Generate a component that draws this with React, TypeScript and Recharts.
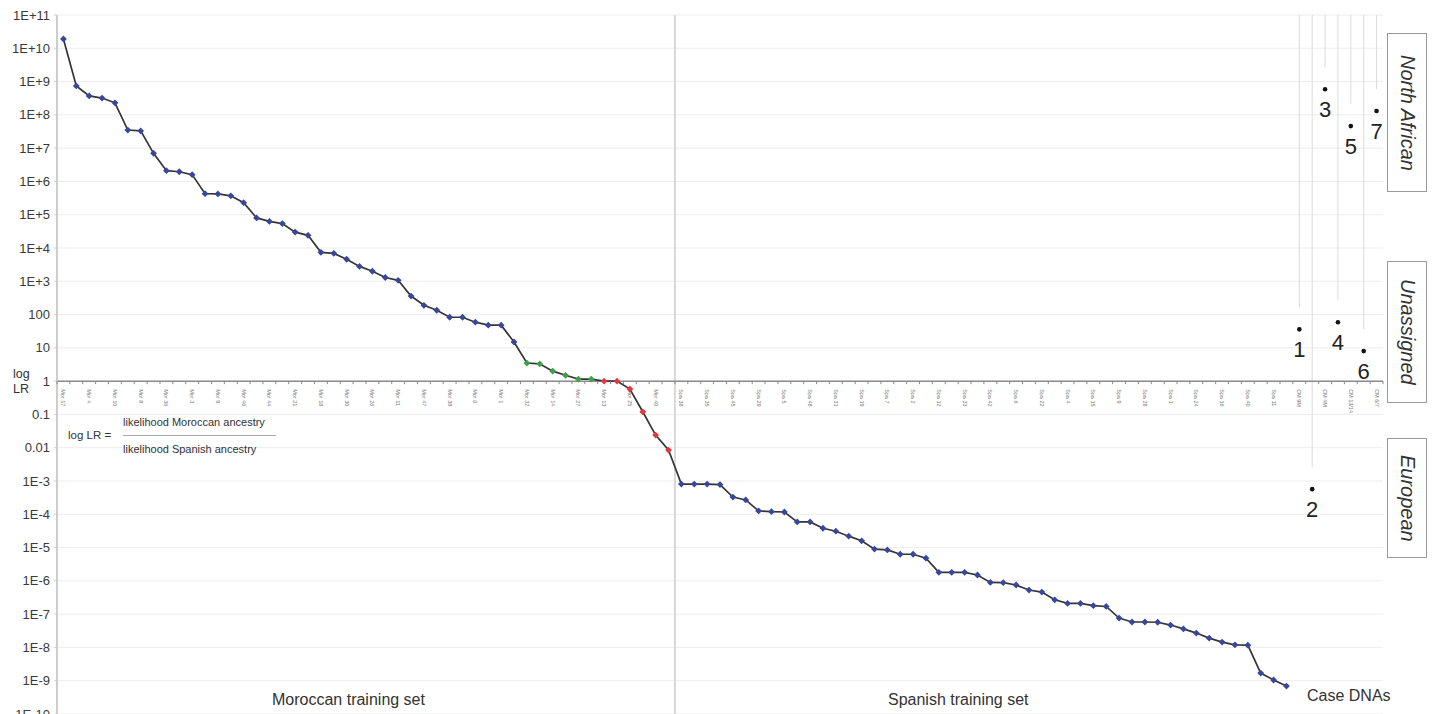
import {
  ComposedChart,
  Line,
  Scatter,
  XAxis,
  YAxis,
  CartesianGrid,
  ReferenceLine,
} from "recharts";

// log likelihood ratios, sorted, one per training sample
const moroccanLR = [
  1.9e10, 7.4e8, 3.7e8, 3.2e8, 2.3e8, 3.5e7, 3.3e7, 7e6, 2.1e6, 1.95e6, 1.6e6, 4.3e5,
  4.2e5, 3.7e5, 2.3e5, 8e4, 6.3e4, 5.4e4, 3e4, 2.4e4, 7.4e3, 6.9e3, 4.6e3, 2.8e3,
  2e3, 1.3e3, 1.07e3, 360, 190, 135, 83, 83, 59, 48, 48, 15, 3.5, 3.3,
  2.0, 1.5, 1.15, 1.15, 1.0, 1.0, 0.58, 0.12, 0.024, 0.0085,
];
// c = correctly assigned, u = unassigned, w = wrong side
const moroccanCall = [
  "c", "c", "c", "c", "c", "c", "c", "c", "c", "c", "c", "c",
  "c", "c", "c", "c", "c", "c", "c", "c", "c", "c", "c", "c",
  "c", "c", "c", "c", "c", "c", "c", "c", "c", "c", "c", "c",
  "u", "u", "u", "u", "u", "u", "w", "w", "w", "w", "w", "w",
];
const spanishLR = [
  8.1e-4, 8.1e-4, 8.1e-4, 7.8e-4, 3.3e-4, 2.7e-4, 1.26e-4, 1.2e-4, 1.17e-4, 5.9e-5, 5.9e-5, 3.8e-5,
  3.1e-5, 2.2e-5, 1.6e-5, 9e-6, 8.5e-6, 6.3e-6, 6.3e-6, 4.8e-6, 1.8e-6, 1.8e-6, 1.8e-6, 1.5e-6,
  9e-7, 8.8e-7, 7.5e-7, 5.3e-7, 4.6e-7, 2.7e-7, 2.1e-7, 2.1e-7, 1.8e-7, 1.7e-7, 7.6e-8, 5.8e-8,
  5.8e-8, 5.7e-8, 4.7e-8, 3.6e-8, 2.7e-8, 1.9e-8, 1.45e-8, 1.2e-8, 1.17e-8, 1.7e-9, 1.05e-9, 6.9e-10,
];
const caseIds = ["1", "2", "3", "4", "5", "6", "7"];
const caseLR = [36, 5.7e-4, 5.9e8, 59, 4.6e7, 8, 1.3e8];

// sample names, written under every second category
const axisLabels = [
  "Mor 17", "Mor 4", "Mor 10", "Mor 8", "Mor 36", "Mor 3", "Mor 9", "Mor 46",
  "Mor 44", "Mor 21", "Mor 18", "Mor 30", "Mor 26", "Mor 11", "Mor 47", "Mor 38",
  "Mor 6", "Mor 1", "Mor 32", "Mor 14", "Mor 27", "Mor 13", "Mor 25", "Mor 40",
  "Spa 38", "Spa 35", "Spa 45", "Spa 29", "Spa 5", "Spa 48", "Spa 31", "Spa 19",
  "Spa 7", "Spa 2", "Spa 12", "Spa 33", "Spa 42", "Spa 6", "Spa 22", "Spa 4",
  "Spa 15", "Spa 9", "Spa 28", "Spa 1", "Spa 24", "Spa 16", "Spa 40", "Spa 11",
  "CM 9M", "CM 4M", "CM 13/14", "CM 6/7",
];

const yTicks = [
  1e-10, 1e-9, 1e-8, 1e-7, 1e-6, 1e-5, 1e-4, 1e-3, 1e-2, 1e-1, 1,
  1e1, 1e2, 1e3, 1e4, 1e5, 1e6, 1e7, 1e8, 1e9, 1e10, 1e11,
];
const yTickLabels = [
  "1E-10", "1E-9", "1E-8", "1E-7", "1E-6", "1E-5", "1E-4", "1E-3", "0.01", "0.1", "1",
  "10", "100", "1E+3", "1E+4", "1E+5", "1E+6", "1E+7", "1E+8", "1E+9", "1E+10", "1E+11",
];

const CALL_COLOR: Record<string, string> = { c: "#37479b", u: "#3f9f45", w: "#e3393b" };
const FONT = "'Liberation Sans', Arial, sans-serif";

const trainRows = [
  ...moroccanLR.map((lr, k) => ({ i: k, lr, call: moroccanCall[k] })),
  ...spanishLR.map((lr, k) => ({ i: moroccanLR.length + k, lr, call: "c" })),
];
const caseRows = caseLR.map((lr, k) => ({ i: trainRows.length + k, lr, id: caseIds[k] }));
const nCat = trainRows.length + caseRows.length;
const labelRows = axisLabels.map((name, k) => ({ i: 2 * k, lr: 1, name }));
const tickRows = Array.from({ length: nCat + 1 }, (_, k) => ({ i: k - 0.5, lr: 1 }));
const splitAt = moroccanLR.length - 0.5;
const LEAD_GAP = 4.5; // leader lines stop a little above each case point

const fmtY = (v: number) => yTickLabels[Math.round(Math.log10(v)) + 10] ?? "";

function Diamond(props: any) {
  const { cx, cy, payload, index } = props;
  if (cx == null || cy == null) return <g key={index} />;
  const r = 3.4;
  return (
    <path
      key={index}
      d={`M${cx},${cy - r}L${cx + r},${cy}L${cx},${cy + r}L${cx - r},${cy}Z`}
      fill={CALL_COLOR[payload.call]}
    />
  );
}

function CaseMark(props: any) {
  const { cx, cy, payload } = props;
  return (
    <g>
      <circle cx={cx} cy={cy} r={2.3} fill="#111" />
      <text x={cx} y={cy + 28} textAnchor="middle" fontSize={22} fill="#222" fontFamily={FONT}>
        {payload.id}
      </text>
    </g>
  );
}

function AxisTick(props: any) {
  const { cx, cy } = props;
  return <line x1={cx} x2={cx} y1={cy} y2={cy + 3} stroke="#888" strokeWidth={1} />;
}

function AxisLabel(props: any) {
  const { cx, cy, payload } = props;
  const y = cy + 8;
  return (
    <text
      x={cx}
      y={y}
      transform={`rotate(90 ${cx} ${y})`}
      fontSize={5.5}
      fill="#777"
      fontFamily={FONT}
      dominantBaseline="central"
    >
      {payload.name}
    </text>
  );
}

function GroupBox({ top, height, label }: { top: number; height: number; label: string }) {
  return (
    <div
      style={{
        position: "absolute",
        left: 1387,
        top,
        width: 38,
        height,
        border: "1.5px solid #9a9a9a",
        display: "flex",
        alignItems: "center",
        justifyContent: "center",
      }}
    >
      <span
        style={{
          writingMode: "vertical-rl",
          fontStyle: "italic",
          fontSize: 20,
          color: "#333",
          fontFamily: FONT,
        }}
      >
        {label}
      </span>
    </div>
  );
}

const txt = (left: number, top: number, size: number, s: string) => (
  <div
    style={{
      position: "absolute",
      left,
      top: top - size * 0.6,
      fontSize: size,
      lineHeight: `${size * 1.2}px`,
      color: "#333",
      fontFamily: FONT,
      whiteSpace: "nowrap",
    }}
  >
    {s}
  </div>
);

export default function App() {
  return (
    <div
      style={{
        position: "absolute",
        left: 0,
        top: 0,
        width: 1433,
        height: 714,
        overflow: "hidden",
        background: "#fff",
      }}
    >
      <ComposedChart width={1433} height={730} margin={{ top: 15, right: 50, left: 0, bottom: 16 }}>
        <CartesianGrid vertical={false} stroke="#ededed" />
        <XAxis type="number" dataKey="i" domain={[-0.5, nCat - 0.5]} hide />
        <YAxis
          dataKey="lr"
          scale="log"
          domain={[1e-10, 1e11]}
          allowDataOverflow
          ticks={yTicks}
          tickFormatter={fmtY}
          width={57}
          axisLine={{ stroke: "#bdbdbd", strokeWidth: 1.5 }}
          tickLine={{ stroke: "#cfcfcf" }}
          tickSize={3}
          tickMargin={4}
          tick={{ fontSize: 13, fill: "#3a3a3a", fontFamily: FONT }}
        />
        <ReferenceLine x={splitAt} stroke="#cdcdcd" strokeWidth={1.5} />
        {caseRows.map((c) => (
          <ReferenceLine
            key={c.id}
            segment={[
              { x: c.i, y: 1e11 },
              { x: c.i, y: c.lr * LEAD_GAP },
            ]}
            stroke="#dcdcdc"
            strokeWidth={1}
          />
        ))}
        <ReferenceLine y={1} stroke="#8c8c8c" strokeWidth={1.5} />
        <Scatter data={tickRows} dataKey="lr" shape={AxisTick} isAnimationActive={false} />
        <Scatter data={labelRows} dataKey="lr" shape={AxisLabel} isAnimationActive={false} />
        <Line
          data={trainRows}
          dataKey="lr"
          stroke="#353535"
          strokeWidth={1.7}
          dot={Diamond}
          activeDot={false}
          isAnimationActive={false}
        />
        <Scatter data={caseRows} dataKey="lr" shape={CaseMark} isAnimationActive={false} />
      </ComposedChart>

      {txt(13, 374, 12.5, "log")}
      {txt(13, 389, 12.5, "LR")}
      {txt(68, 436, 11.5, "log LR =")}
      {txt(123, 423, 11, "likelihood Moroccan ancestry")}
      <div style={{ position: "absolute", left: 123, top: 435, width: 153, height: 1, background: "#aaa" }} />
      {txt(123, 450, 11, "likelihood Spanish ancestry")}
      {txt(272, 700, 16, "Moroccan training set")}
      {txt(888, 700, 16, "Spanish training set")}
      {txt(1307, 696, 16, "Case DNAs")}

      <GroupBox top={33} height={157} label="North African" />
      <GroupBox top={261} height={140} label="Unassigned" />
      <GroupBox top={438} height={118} label="European" />
    </div>
  );
}
